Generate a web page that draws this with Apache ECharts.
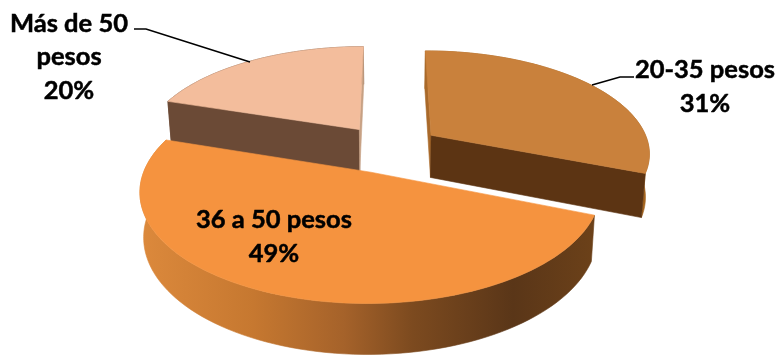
<!DOCTYPE html>
<html>
<head>
<meta charset="utf-8">
<style>html,body{margin:0;padding:0;background:#fff}#chart{width:780px;height:357px}</style>
<script src="https://cdn.jsdelivr.net/npm/echarts@6/dist/echarts.min.js"></script>
</head>
<body>
<div id="chart"></div>
<script>
// Gasto por rango de pesos: pastel 3D con porciones separadas
var categories = ['20-35 pesos', '36 a 50 pesos', 'Más de 50 pesos'];
var values = [31, 49, 20];
var labelLines = [['20-35 pesos'], ['36 a 50 pesos'], ['Más de 50', 'pesos']];

// Scene geometry for the hand-rolled perspective projection
var view = { cx: 389, cy: 148.6, radius: 219, explode: 52, tilt: 0.465, persp: 0.16, depth: 43.5, floorScale: 0.985 };

// Face colours per slice, in the order of the data; null marks a face turned away from the viewer
var topColors = ['#c9813c', '#f5933f', '#f3bd9c'];
var wallColors = ['#a5651f', null, '#6b4a35'];
var startCutColors = ['#a9692a', null, '#6b4a36'];
var endCutColors = ['#5c3413', null, '#c7a184'];
var rimStops = [
  [0, '#dc893c'], [0.25, '#c67830'], [0.45, '#a5622a'],
  [0.6, '#7c4a1f'], [0.82, '#5a3618'], [1, '#6c4119']
];
var paintOrder = [2, 0, 1];

var total = values.reduce(function (a, b) { return a + b; }, 0);
var startFractions = values.map(function (v, i) {
  return values.slice(0, i).reduce(function (a, b) { return a + b; }, 0) / total;
});

// Ground plane point (x right, z toward the viewer) to screen; floor = 1 for the underside
function project(x, z, floor) {
  var s = 1 / (1 - view.persp * z / view.radius);
  var k = floor ? view.floorScale : 1;
  return [
    view.cx + x * s * k,
    view.cy + (view.tilt * z + (floor ? view.depth : 0)) * s * k
  ];
}

function renderSlice(params, api) {
  var idx = api.value(0);
  var a0 = startFractions[idx] * 2 * Math.PI;
  var a1 = a0 + values[idx] / total * 2 * Math.PI;
  var mid = (a0 + a1) / 2;
  var ox = Math.sin(mid) * view.explode;
  var oz = -Math.cos(mid) * view.explode;

  var arcAt = function (a) {
    return [ox + Math.sin(a) * view.radius, oz - Math.cos(a) * view.radius];
  };
  var steps = Math.ceil((a1 - a0) / (Math.PI / 90));
  var arcTop = [], arcBottom = [];
  for (var i = 0; i <= steps; i++) {
    var p = arcAt(a0 + (a1 - a0) * i / steps);
    arcTop.push(project(p[0], p[1], false));
    arcBottom.push(project(p[0], p[1], true));
  }
  var apexTop = project(ox, oz, false);
  var apexBottom = project(ox, oz, true);
  var first = arcAt(a0), last = arcAt(a1);

  var poly = function (points, fill) {
    return {
      type: 'polygon',
      shape: { points: points },
      style: { fill: fill, stroke: fill, lineWidth: 0.6 },
      silent: true
    };
  };
  var rimFill = wallColors[idx] || new echarts.graphic.LinearGradient(0, 0, 1, 0,
    rimStops.map(function (s) { return { offset: s[0], color: s[1] }; }));

  var faces = [poly(arcTop.concat(arcBottom.slice().reverse()), rimFill)];
  if (startCutColors[idx]) {
    faces.push(poly([apexTop, project(first[0], first[1], false), project(first[0], first[1], true), apexBottom], startCutColors[idx]));
  }
  if (endCutColors[idx]) {
    faces.push(poly([apexTop, project(last[0], last[1], false), project(last[0], last[1], true), apexBottom], endCutColors[idx]));
  }
  faces.push(poly([apexTop].concat(arcTop), topColors[idx]));
  return { type: 'group', children: faces };
}

// Label block text from the category lines and the value
function labelText(i) {
  return labelLines[i].concat(values[i] + '%').join('\n');
}
var labelFont = { fontFamily: 'Lato', fontWeight: 'bold', fontSize: 25.5, lineHeight: 33.5, fill: '#000', stroke: '#000', lineWidth: 0.5, textAlign: 'center', textVerticalAlign: 'middle' };
function labelAt(i, x, y) {
  return { type: 'text', x: x, y: y, z: 10, silent: true, style: Object.assign({ text: labelText(i) }, labelFont) };
}
function leader(points) {
  return { type: 'polyline', z: 9, silent: true, shape: { points: points }, style: { stroke: '#000', lineWidth: 1.6, fill: null } };
}

var chart = echarts.init(document.getElementById('chart'), null, { renderer: 'canvas' });
chart.setOption({
  animation: false,
  backgroundColor: '#fff',
  series: [{
    type: 'custom',
    coordinateSystem: 'none',
    renderItem: renderSlice,
    silent: true,
    data: paintOrder.map(function (i) { return { name: categories[i], value: [i, values[i]] }; })
  }],
  graphic: [
    leader([[134, 29], [146, 29], [250, 62]]),
    leader([[592, 85], [620, 77], [634, 77]]),
    labelAt(2, 69, 57),
    labelAt(0, 705, 87),
    labelAt(1, 274, 237)
  ]
});
</script>
</body>
</html>
